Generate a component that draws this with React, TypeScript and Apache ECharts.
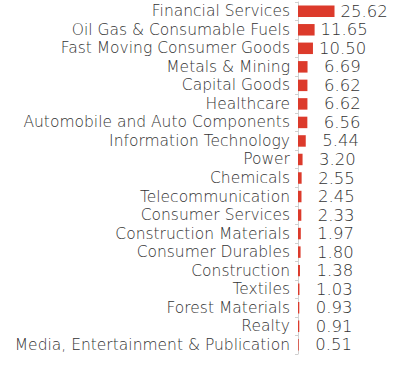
import React, { useEffect, useRef } from "react";
import * as echarts from "echarts";

const categories = [
  "Financial Services",
  "Oil Gas & Consumable Fuels",
  "Fast Moving Consumer Goods",
  "Metals & Mining",
  "Capital Goods",
  "Healthcare",
  "Automobile and Auto Components",
  "Information Technology",
  "Power",
  "Chemicals",
  "Telecommunication",
  "Consumer Services",
  "Construction Materials",
  "Consumer Durables",
  "Construction",
  "Textiles",
  "Forest Materials",
  "Realty",
  "Media, Entertainment & Publication",
];

const values = [
  25.62, 11.65, 10.5, 6.69, 6.62, 6.62, 6.56, 5.44, 3.2, 2.55, 2.45, 2.33,
  1.97, 1.8, 1.38, 1.03, 0.93, 0.91, 0.51,
];

export default function App() {
  const ref = useRef<HTMLDivElement>(null);
  useEffect(() => {
    const chart = echarts.init(ref.current!, null, { renderer: "svg" });
    const font = "DejaVu Sans";
    chart.setOption({
      animation: false,
      grid: { left: 298, top: 2, width: 114, height: 352, containLabel: false },
      xAxis: {
        type: "value",
        min: 0,
        max: 80,
        show: false,
      },
      yAxis: {
        type: "category",
        inverse: true,
        data: categories,
        axisLine: { show: true, lineStyle: { color: "#d0d0d0", width: 1 } },
        axisTick: { show: true, length: 3, lineStyle: { color: "#d0d0d0" } },
        axisLabel: {
          interval: 0,
          color: "#333",
          fontFamily: font,
          fontWeight: 200,
          fontSize: 15.5,
          margin: 8,
        },
      },
      series: [
        {
          type: "bar",
          data: values,
          barWidth: "62%",
          itemStyle: { color: "#dc3a2b" },
          label: {
            show: true,
            position: "right",
            distance: 6,
            color: "#333",
            fontFamily: font,
            fontWeight: 200,
            fontSize: 16.5,
            formatter: (p: any) =>
              (p.value < 10 ? "\u2007" : "") + Number(p.value).toFixed(2),
          },
        },
      ],
    });
    return () => chart.dispose();
  }, []);
  return (
    <div
      ref={ref}
      style={{ position: "absolute", left: 0, top: 0, width: 417, height: 373 }}
    />
  );
}
